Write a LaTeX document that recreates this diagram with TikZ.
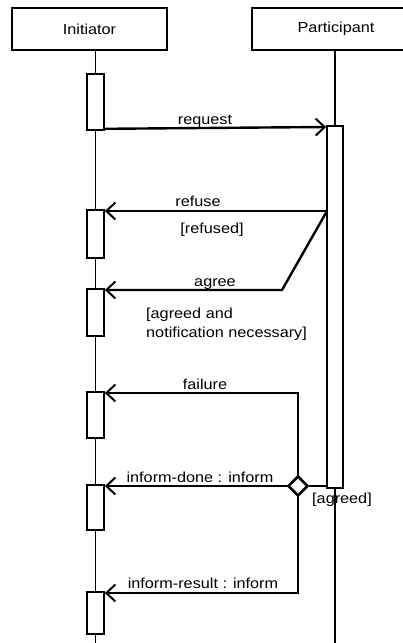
\documentclass[tikz,border=0pt]{standalone}
\usepackage{fontspec}
\setmainfont{Liberation Sans}[FakeStretch=1.12]
\usetikzlibrary{arrows.meta,shapes.geometric}
\begin{document}
\begin{tikzpicture}[x=1pt,y=-1pt,
  every node/.style={font=\fontsize{14.5}{19}\selectfont},
  head/.style={draw,line width=1.8pt,minimum width=155pt,minimum height=42pt,inner sep=0pt},
  life/.style={line width=1.2pt},
  act/.style={draw,fill=white,line width=1.8pt,minimum width=17pt,inner sep=0pt,anchor=north},
  msg/.style={line width=2.4pt,-{Straight Barb[length=9pt,width=17pt,line width=2pt]}},
  cond/.style={line width=2.4pt},
  lbl/.style={anchor=base,inner sep=0pt},
  choice/.style={draw,diamond,fill=white,line width=2.6pt,minimum width=20pt,minimum height=20pt,inner sep=0pt}]
\useasboundingbox (0,0) rectangle (403,643);
% headers
\node[head] (ini) at (89.5,29) {Initiator};
\node[head,minimum width=168pt] (par) at (336,29) {Participant};
% lifeline ends
\coordinate (iend) at (95.5,650);
\coordinate (pend) at (335,650);
\draw[life] (ini.south -| iend) -- (iend);
\draw[life] (par.south -| pend) -- (pend);
% activations
\node[act,minimum height=56pt] (a1) at (95.5,73) {};
\node[act,minimum width=16pt,minimum height=362pt] (pact) at (335,125) {};
\node[act,minimum height=48pt] (a2) at (95.5,209) {};
\node[act,minimum height=47pt] (a3) at (95.5,288) {};
\node[act,minimum height=46pt] (a4) at (95.5,391) {};
\node[act,minimum height=45pt] (a5) at (95.5,484) {};
\node[act,minimum height=42pt] (a6) at (95.5,591) {};
% request
\draw[msg] ([yshift=2pt]a1.south east) -- ([yshift=-2pt]pact.north west);
\node[lbl] (lreq) at (205,124) {request};
% refuse / agree
\coordinate (fork) at (327,211);
\coordinate (bend) at (282,290);
\draw[msg] (fork) -- ([yshift=-2pt]a2.north east);
\draw[msg] (fork) -- (bend) -- ([yshift=-2pt]a3.north east);
\node[lbl] (lref) at (198,206) {refuse};
\node[lbl] (lrefd) at (212,233) {[refused]};
\node[lbl] (lagr) at (215,286) {agree};
\node[anchor=base west,inner sep=0pt,align=left] (lagrd) at (146,337) {[agreed and\\notification necessary]};
% choice
\node[choice] (dia) at (298,486) {};
\draw[cond] (dia.east) -- (dia.east -| pact.west);
\draw[msg] (dia.north) |- ([yshift=-2pt]a4.north east);
\draw[msg] (dia.west) -- ([yshift=-2pt]a5.north east);
\draw[msg] (dia.south) |- ([yshift=-2pt]a6.north east);
\node[lbl] (lfail) at (205,389) {failure};
\node[lbl] (ldone) at (200,482) {inform-done : inform};
\node[lbl] (lagd) at (342,503) {[agreed]};
\node[lbl] (lres) at (203,588) {inform-result : inform};
\end{tikzpicture}
\end{document}
